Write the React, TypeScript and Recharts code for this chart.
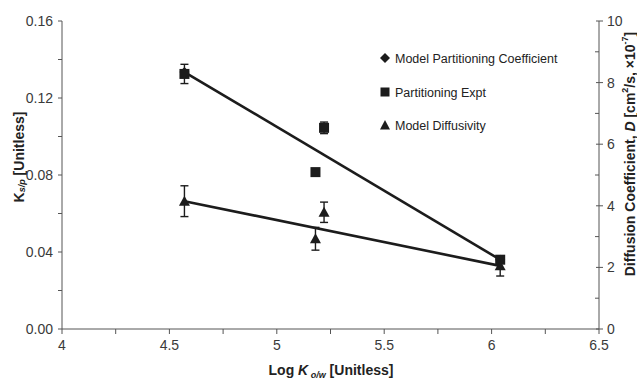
import React from 'react';
import { ScatterChart, Scatter, XAxis, YAxis, ErrorBar } from 'recharts';

// ---- tick values ----
const xTicks = [4, 4.25, 4.5, 4.75, 5, 5.25, 5.5, 5.75, 6, 6.25, 6.5];
const xMajor = [4, 4.5, 5, 5.5, 6, 6.5];
const kTicks = [0, 0.02, 0.04, 0.06, 0.08, 0.1, 0.12, 0.14, 0.16];
const kMajor = [0, 0.04, 0.08, 0.12, 0.16];
const dTicks = [0, 1, 2, 3, 4, 5, 6, 7, 8, 9, 10];
const dMajor = [0, 2, 4, 6, 8, 10];

// ---- series ----
const logKow = [4.57, 5.18, 5.22, 6.04];
const exptK = [0.1325, 0.0815, 0.1045, 0.036];
const exptKErr = [0.005, 0, 0.003, 0.001];
const modelD = [4.15, 2.93, 3.79, 2.05];
const modelDErr = [0.5, 0.37, 0.33, 0.33];
const modelKLogKow = [4.57, 6.04];
const modelK = [0.1335, 0.036];
const fitDLogKow = [4.57, 6.04];
const fitD = [4.15, 2.05];

const legendNames = ['Model Partitioning Coefficient', 'Partitioning Expt', 'Model Diffusivity'];

const exptData = logKow.map((x, i) => ({ x, y: exptK[i], err: exptKErr[i] }));
const diffData = logKow.map((x, i) => ({ x, y: modelD[i], err: modelDErr[i] }));
const modelKData = modelKLogKow.map((x, i) => ({ x, y: modelK[i] }));
const fitDData = fitDLogKow.map((x, i) => ({ x, y: fitD[i] }));

const INK = '#1c1c1c';
const AXIS = '#555';
const LABEL = '#3a3a3a';
const FONT = '"Liberation Sans", Arial, sans-serif';

const isIn = (arr: number[], v: number) => arr.some((a) => Math.abs(a - v) < 1e-9);

const XTick = (props: any) => {
  const { x, y, payload } = props;
  const v = payload.value;
  return (
    <g>
      <line x1={x} x2={x} y1={y} y2={y + 5} stroke={AXIS} strokeWidth={1} />
      {isIn(xMajor, v) && (
        <text x={x} y={y + 21} textAnchor="middle" fontSize={14} fill={LABEL} fontFamily={FONT}>
          {String(v)}
        </text>
      )}
    </g>
  );
};

const KTick = (props: any) => {
  const { x, y, payload } = props;
  const v = payload.value;
  return (
    <g>
      <line x1={x - 4} x2={x} y1={y} y2={y} stroke={AXIS} strokeWidth={1} />
      {isIn(kMajor, v) && (
        <text x={x - 9} y={y + 5} textAnchor="end" fontSize={14} fill={LABEL} fontFamily={FONT}>
          {v.toFixed(2)}
        </text>
      )}
    </g>
  );
};

const DTick = (props: any) => {
  const { x, y, payload } = props;
  const v = payload.value;
  const major = isIn(dMajor, v);
  return (
    <g>
      <line x1={major ? x - 3 : x - 4} x2={major ? x + 4 : x} y1={y} y2={y} stroke={AXIS} strokeWidth={1} />
      {major && (
        <text x={x + 8} y={y + 5} textAnchor="start" fontSize={14} fill={LABEL} fontFamily={FONT}>
          {String(v)}
        </text>
      )}
    </g>
  );
};

const Square = (p: any) => <rect x={p.cx - 5} y={p.cy - 5} width={10} height={10} fill={INK} />;
const Triangle = (p: any) => (
  <polygon points={`${p.cx},${p.cy - 5.5} ${p.cx + 5.5},${p.cy + 4.5} ${p.cx - 5.5},${p.cy + 4.5}`} fill={INK} />
);
const Diamond = (p: any) => (
  <polygon points={`${p.cx},${p.cy - 5} ${p.cx + 5},${p.cy} ${p.cx},${p.cy + 5} ${p.cx - 5},${p.cy}`} fill={INK} />
);
const NoShape = () => <g />;

const Titles = () => (
  <g fontFamily={FONT} fontWeight="bold" fill="#222">
    <text x={331} y={375} textAnchor="middle" fontSize={14}>
      Log <tspan fontStyle="italic">K</tspan>
      <tspan dy={3} fontSize={9} fontStyle="italic"> o/w</tspan>
      <tspan dy={-3}> [Unitless]</tspan>
    </text>
    <text x={19} y={157} transform="rotate(-90, 19, 157)" textAnchor="middle" dominantBaseline="central" fontSize={14}>
      K<tspan dy={3} fontSize={9} fontStyle="italic">s/p</tspan>
      <tspan dy={-3}> [Unitless]</tspan>
    </text>
    <text x={630} y={154} transform="rotate(-90, 630, 154)" textAnchor="middle" dominantBaseline="central" fontSize={14}>
      Diffusion Coefficient, <tspan fontStyle="italic">D</tspan> [cm
      <tspan dy={-5} fontSize={9}>2</tspan>
      <tspan dy={5}>/s, ×10</tspan>
      <tspan dy={-5} fontSize={9}>-7</tspan>
      <tspan dy={5}>]</tspan>
    </text>
    <g fontWeight="normal" fontSize={12.5} fill="#222">
      <polygon points="385,53 390,58 385,63 380,58" fill={INK} />
      <text x={395} y={62.5}>{legendNames[0]}</text>
      <rect x={380.5} y={87.5} width={9} height={9} fill={INK} />
      <text x={395} y={96.5}>{legendNames[1]}</text>
      <polygon points="385,120 390,129.5 380,129.5" fill={INK} />
      <text x={395} y={129.5}>{legendNames[2]}</text>
    </g>
  </g>
);

export default function App() {
  return (
    <div style={{ position: 'absolute', left: 0, top: 0, width: 637, height: 381, background: '#fff' }}>
      <ScatterChart width={637} height={381} margin={{ top: 21, right: 8, left: 12, bottom: 22 }}>
        <XAxis
          type="number"
          dataKey="x"
          domain={[4, 6.5]}
          ticks={xTicks}
          interval={0}
          height={30}
          tickSize={0}
          tickMargin={0}
          tickLine={false}
          tick={<XTick />}
          axisLine={{ stroke: AXIS, strokeWidth: 1 }}
          allowDataOverflow
          label={<Titles />}
        />
        <YAxis
          yAxisId="k"
          type="number"
          dataKey="y"
          domain={[0, 0.16]}
          ticks={kTicks}
          interval={0}
          width={50}
          tickSize={0}
          tickMargin={0}
          tickLine={false}
          tick={<KTick />}
          axisLine={{ stroke: AXIS, strokeWidth: 1 }}
        />
        <YAxis
          yAxisId="d"
          orientation="right"
          type="number"
          dataKey="y"
          domain={[0, 10]}
          ticks={dTicks}
          interval={0}
          width={30}
          tickSize={0}
          tickMargin={0}
          tickLine={false}
          tick={<DTick />}
          axisLine={{ stroke: AXIS, strokeWidth: 1 }}
        />
        <Scatter
          name="Model Diffusivity fit"
          yAxisId="d"
          data={fitDData}
          line={{ stroke: INK, strokeWidth: 2.6 }}
          lineType="joint"
          shape={<NoShape />}
          isAnimationActive={false}
        />
        <Scatter
          name={legendNames[0]}
          yAxisId="k"
          data={modelKData}
          line={{ stroke: INK, strokeWidth: 2.6 }}
          lineType="joint"
          shape={<Diamond />}
          isAnimationActive={false}
        />
        <Scatter name={legendNames[1]} yAxisId="k" data={exptData} shape={<Square />} isAnimationActive={false}>
          <ErrorBar dataKey="err" direction="y" width={4} stroke={INK} strokeWidth={1.4} />
        </Scatter>
        <Scatter name={legendNames[2]} yAxisId="d" data={diffData} shape={<Triangle />} isAnimationActive={false}>
          <ErrorBar dataKey="err" direction="y" width={4} stroke={INK} strokeWidth={1.4} />
        </Scatter>
      </ScatterChart>
    </div>
  );
}
